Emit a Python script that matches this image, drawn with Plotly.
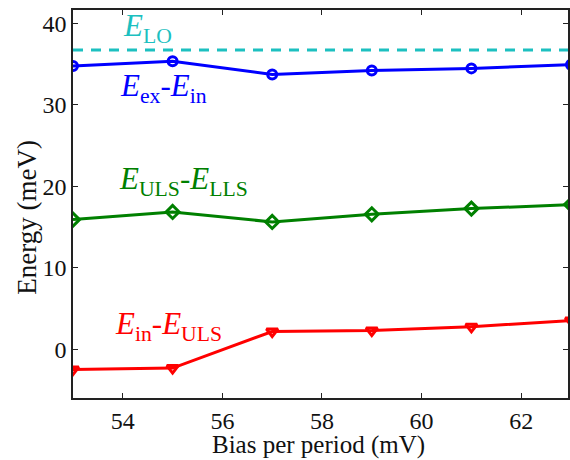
import plotly.graph_objects as go

bias = [53, 55, 57, 59, 61, 63]
e_ex_in = [34.76, 35.37, 33.74, 34.23, 34.48, 34.93]
e_uls_lls = [15.91, 16.85, 15.62, 16.56, 17.26, 17.75]
e_in_uls = [-2.50, -2.33, 2.17, 2.29, 2.74, 3.52]
e_lo = 36.75

FONT = "Liberation Serif"
fig = go.Figure()
fig.add_trace(go.Scatter(x=[bias[0], bias[-1]], y=[e_lo, e_lo], mode="lines",
                         line=dict(color="#1cc0c0", width=3, dash="10px,8px"), showlegend=False))
fig.add_trace(go.Scatter(x=bias, y=e_ex_in, mode="lines+markers",
                         line=dict(color="#0000ff", width=3),
                         marker=dict(symbol="circle-open", size=9, line=dict(width=3, color="#0000ff")),
                         showlegend=False))
fig.add_trace(go.Scatter(x=bias, y=e_uls_lls, mode="lines+markers",
                         line=dict(color="#008000", width=3),
                         marker=dict(symbol="diamond-open", size=10, line=dict(width=3, color="#008000")),
                         showlegend=False))
fig.add_trace(go.Scatter(x=bias, y=e_in_uls, mode="lines+markers",
                         line=dict(color="#ff0000", width=3),
                         marker=dict(symbol="triangle-down-open", size=10, line=dict(width=3, color="#ff0000")),
                         showlegend=False))

labels = [
    ("<i>E</i><sub>LO</sub>", 54.5, 39.5, "#1cc0c0"),
    ("<i>E</i><sub>ex</sub>-<i>E</i><sub>in</sub>", 54.82, 32.1, "#0000ff"),
    ("<i>E</i><sub>ULS</sub>-<i>E</i><sub>LLS</sub>", 55.21, 20.7, "#008000"),
    ("<i>E</i><sub>in</sub>-<i>E</i><sub>ULS</sub>", 54.92, 2.9, "#ff0000"),
]
for txt, x, y, c in labels:
    fig.add_annotation(x=x, y=y, text=txt, showarrow=False,
                       font=dict(family=FONT, size=31, color=c))

# axis titles placed as paper annotations
fig.add_annotation(x=0.495, y=-0.12, xref="paper", yref="paper", text="Bias per period (mV)",
                   showarrow=False, xanchor="center", yanchor="middle",
                   font=dict(family=FONT, size=25, color="#111111"))
fig.add_annotation(x=-0.092, y=0.466, xref="paper", yref="paper", text="Energy (meV)",
                   showarrow=False, xanchor="center", yanchor="middle", textangle=-90,
                   font=dict(family=FONT, size=27, color="#111111"))

axis_common = dict(showline=True, linecolor="#222222", linewidth=1.5, mirror="ticks",
                   ticks="inside", ticklen=5, tickwidth=1, tickcolor="#222222",
                   showgrid=False, zeroline=False,
                   tickfont=dict(family=FONT, size=24, color="#111111"))
fig.update_xaxes(range=[53, 62.94], tickvals=[54, 56, 58, 60, 62], **axis_common)
fig.update_yaxes(range=[-6, 41.65], tickvals=[0, 10, 20, 30, 40], **axis_common)
fig.update_layout(width=570, height=460, margin=dict(l=73, r=0, t=10, b=62),
                  plot_bgcolor="white", paper_bgcolor="white")
fig.write_html("out.html")
